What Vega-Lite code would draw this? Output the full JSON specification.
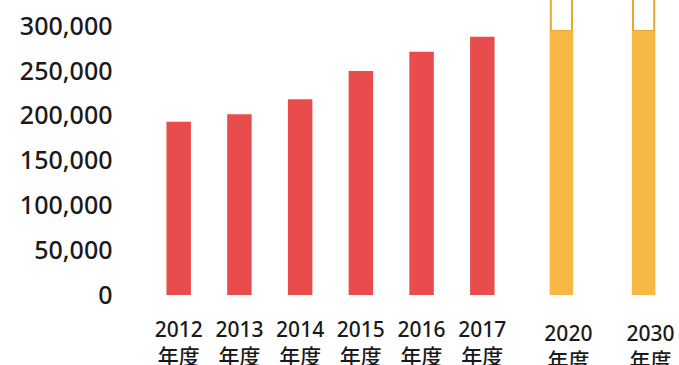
{
  "$schema": "https://vega.github.io/schema/vega-lite/v6.json",
  "padding": {"left": 19, "top": 0, "right": 0, "bottom": 0},
  "spacing": 0,
  "background": "white",
  "config": {
    "view": {"stroke": null},
    "axis": {"grid": false, "domain": false, "ticks": false, "labelFont": "Noto Sans, Noto Sans CJK JP", "labelFontWeight": 500, "labelColor": "#1a1a1a", "title": null}
  },
  "datasets": {
    "actual": [
      {"年度": "2012 年度", "件数": 193600},
      {"年度": "2013 年度", "件数": 201900},
      {"年度": "2014 年度", "件数": 218700},
      {"年度": "2015 年度", "件数": 250300},
      {"年度": "2016 年度", "件数": 271800},
      {"年度": "2017 年度", "件数": 288600}
    ],
    "forecast": [
      {"年度": "2020 年度", "件数": 295000, "上限": 400000},
      {"年度": "2030 年度", "件数": 295000, "上限": 400000}
    ]
  },
  "hconcat": [
    {
      "width": 421,
      "height": 295,
      "data": {"name": "actual"},
      "mark": {"type": "bar", "color": "#e84c4c"},
      "encoding": {
        "x": {"field": "年度", "type": "nominal", "sort": null,
          "scale": {"paddingInner": 0.597, "paddingOuter": 0.765},
          "axis": {"labelAngle": 0, "labelFontSize": 21, "labelPadding": 24, "labelLineHeight": 27, "labelExpr": "split(datum.label, ' ')"}},
        "y": {"field": "件数", "type": "quantitative",
          "scale": {"domain": [0, 329600], "nice": false},
          "axis": {"values": [0, 50000, 100000, 150000, 200000, 250000, 300000], "format": ",.0f", "labelFontSize": 25, "labelPadding": 8}}
      }
    },
    {
      "width": 123,
      "height": 295,
      "data": {"name": "forecast"},
      "encoding": {
        "x": {"field": "年度", "type": "nominal", "sort": null,
          "scale": {"paddingInner": 0.714, "paddingOuter": 0.105},
          "axis": {"labelAngle": 0, "labelFontSize": 21, "labelPadding": 28, "labelLineHeight": 27, "labelOffset": 7, "labelExpr": "split(datum.label, ' ')"}}
      },
      "layer": [
        {
          "mark": {"type": "bar", "fill": "white", "fillOpacity": 0, "stroke": "#e3a92e", "strokeWidth": 2, "clip": true, "width": {"band": 0.9}},
          "encoding": {
            "y": {"field": "件数", "type": "quantitative", "scale": {"domain": [0, 329600], "nice": false}, "axis": null},
            "y2": {"field": "上限"}
          }
        },
        {
          "mark": {"type": "bar", "color": "#f7b944", "clip": true},
          "encoding": {
            "y": {"field": "件数", "type": "quantitative", "scale": {"domain": [0, 329600], "nice": false}, "axis": null}
          }
        }
      ]
    }
  ],
  "resolve": {"scale": {"x": "independent", "y": "independent"}}
}
